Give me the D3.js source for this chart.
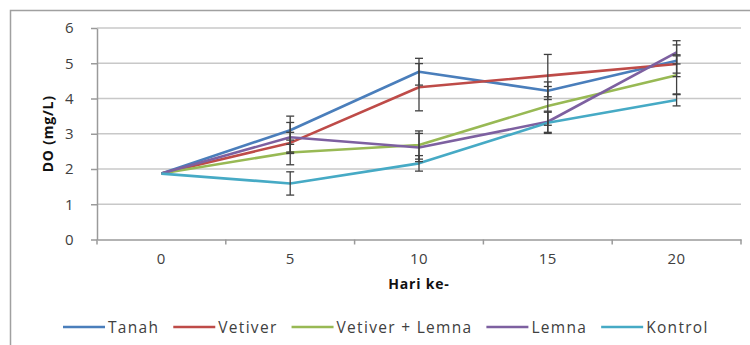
<!DOCTYPE html>
<html>
<head>
<meta charset="utf-8">
<script src="https://cdn.jsdelivr.net/npm/d3@7"></script>
<style>
  html, body { margin: 0; padding: 0; background: #fff; }
  svg { display: block; font-family: "Open Sans", "Noto Sans", sans-serif; }
</style>
</head>
<body>
<svg id="chart" width="750" height="345"></svg>
<script>
// Sampling days
const days = ["0", "5", "10", "15", "20"];
const yTicks = [0, 1, 2, 3, 4, 5, 6];

// Dissolved oxygen (mg/L) per treatment
const tanah   = [1.87, 3.10, 4.76, 4.22, 5.07];
const vetiver = [1.87, 2.74, 4.32, 4.65, 4.98];
const vetLem  = [1.87, 2.47, 2.68, 3.79, 4.66];
const lemna   = [1.87, 2.90, 2.61, 3.34, 5.31];
const kontrol = [1.87, 1.59, 2.16, 3.31, 3.96];

// Standard deviations (no bar on day 0)
const tanahErr   = [null, 0.40, 0.38, 0.25, 0.45];
const vetiverErr = [null, 0.30, 0.67, 0.60, 0.26];
const vetLemErr  = [null, 0.35, 0.40, 0.55, 0.55];
const lemnaErr   = [null, 0.42, 0.40, 0.30, 0.33];
const kontrolErr = [null, 0.33, 0.22, 0.30, 0.17];

const seriesNames = ["Tanah", "Vetiver", "Vetiver + Lemna", "Lemna", "Kontrol"];
const colors = ["#4A7EBB", "#BE4B48", "#98B954", "#7D60A0", "#46AAC5"];

const series = [
  { name: seriesNames[0], values: tanah,   err: tanahErr,   color: colors[0] },
  { name: seriesNames[1], values: vetiver, err: vetiverErr, color: colors[1] },
  { name: seriesNames[2], values: vetLem,  err: vetLemErr,  color: colors[2] },
  { name: seriesNames[3], values: lemna,   err: lemnaErr,   color: colors[3] },
  { name: seriesNames[4], values: kontrol, err: kontrolErr, color: colors[4] }
];

const svg = d3.select("#chart");
const textColor = "#404040";

// Chart frame
svg.append("rect")
  .attr("x", 10.5).attr("y", 10.5)
  .attr("width", 760).attr("height", 400)
  .attr("fill", "none").attr("stroke", "#A0A0A0").attr("stroke-width", 1.5);

const plot = { left: 97, right: 741, top: 28, bottom: 239.5 };

const x = d3.scaleBand().domain(days).range([plot.left, plot.right]);
const y = d3.scaleLinear().domain([0, 6]).range([plot.bottom, plot.top]);

// Horizontal gridlines
svg.append("g")
  .selectAll("line")
  .data(yTicks.filter(t => t > 0))
  .join("line")
  .attr("x1", plot.left).attr("x2", plot.right)
  .attr("y1", d => y(d)).attr("y2", d => y(d))
  .attr("stroke", "#C8C8C8").attr("stroke-width", 1.5);

// Y axis
const yAxis = svg.append("g")
  .attr("transform", `translate(${plot.left},0)`)
  .call(d3.axisLeft(y).tickValues(yTicks).tickSize(6).tickSizeOuter(0).tickPadding(17).tickFormat(d3.format("d")));
yAxis.select(".domain").attr("stroke", "#9A9A9A").attr("stroke-width", 1.5);
yAxis.selectAll(".tick line").attr("stroke", "#9A9A9A").attr("stroke-width", 1.5);
yAxis.selectAll("text").attr("fill", textColor).attr("font-size", 15)
  .attr("letter-spacing", 0.5).attr("font-family", "Open Sans");

// X axis with ticks between categories
const xAxis = svg.append("g")
  .attr("transform", `translate(0,${plot.bottom})`)
  .call(d3.axisBottom(x).tickSize(0).tickPadding(14));
xAxis.select(".domain").attr("stroke", "#9A9A9A").attr("stroke-width", 1.5);
xAxis.selectAll("text").attr("fill", textColor).attr("font-size", 15)
  .attr("letter-spacing", 0.5).attr("font-family", "Open Sans");
const boundaries = days.map(d => x(d)).concat([x(days[days.length - 1]) + x.bandwidth()]);
xAxis.selectAll("line.sep")
  .data(boundaries)
  .join("line")
  .attr("class", "sep")
  .attr("x1", d => d).attr("x2", d => d)
  .attr("y1", 0).attr("y2", 5)
  .attr("stroke", "#9A9A9A").attr("stroke-width", 1.5);

// Axis titles
svg.append("text")
  .attr("x", (plot.left + plot.right) / 2).attr("y", 289)
  .attr("text-anchor", "middle")
  .attr("font-size", 14).attr("font-weight", "bold").attr("letter-spacing", 0.8).attr("fill", "#111")
  .text("Hari ke-");

svg.append("text")
  .attr("transform", `translate(53,${(plot.top + plot.bottom) / 2}) rotate(-90)`)
  .attr("text-anchor", "middle")
  .attr("font-size", 14).attr("font-weight", "bold").attr("letter-spacing", 0.8).attr("fill", "#111")
  .text("DO (mg/L)");

const cx = d => x(d) + x.bandwidth() / 2;

// Lines
const line = d3.line()
  .x((v, i) => cx(days[i]))
  .y(v => y(v));

svg.append("g")
  .selectAll("path")
  .data(series)
  .join("path")
  .attr("d", s => line(s.values))
  .attr("fill", "none")
  .attr("stroke", s => s.color)
  .attr("stroke-width", 2.6)
  .attr("stroke-linejoin", "round");

// Error bars
const errData = [];
series.forEach(s => s.values.forEach((v, i) => {
  if (s.err[i] != null) errData.push({ day: days[i], v, e: s.err[i] });
}));
const eg = svg.append("g").attr("stroke", "#404040").attr("stroke-width", 1.3);
errData.forEach(d => {
  const px = cx(d.day);
  const y1 = y(d.v + d.e), y2 = y(d.v - d.e);
  eg.append("line").attr("x1", px).attr("x2", px).attr("y1", y1).attr("y2", y2);
  eg.append("line").attr("x1", px - 4).attr("x2", px + 4).attr("y1", y1).attr("y2", y1);
  eg.append("line").attr("x1", px - 4).attr("x2", px + 4).attr("y1", y2).attr("y2", y2);
});

// Legend
const legend = svg.append("g").attr("transform", "translate(63,327)");
let lx = 0;
series.forEach(s => {
  const g = legend.append("g").attr("transform", `translate(${lx},0)`);
  g.append("line").attr("x1", 0).attr("x2", 42).attr("y1", 0).attr("y2", 0)
    .attr("stroke", s.color).attr("stroke-width", 2.6);
  const t = g.append("text").attr("x", 45).attr("y", 5.5)
    .attr("font-size", 15.5).attr("letter-spacing", 1.3).attr("fill", textColor)
    .text(s.name);
  lx += 45 + t.node().getComputedTextLength() + 14;
});
</script>
</body>
</html>
